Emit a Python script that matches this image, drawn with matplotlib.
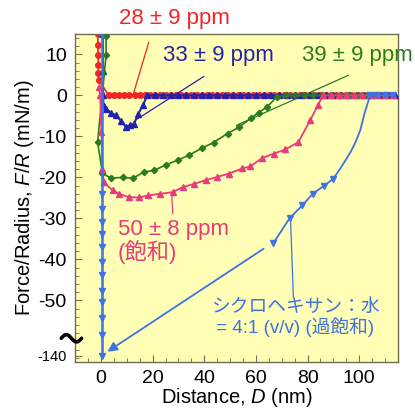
import numpy as np
import matplotlib
matplotlib.use("Agg")
import matplotlib.pyplot as plt
from matplotlib.ticker import MultipleLocator, FixedLocator
from matplotlib.patches import Rectangle

plt.rcParams['font.family'] = ['Liberation Sans', 'Noto Sans CJK JP', 'DejaVu Sans']
plt.rcParams['mathtext.fontset'] = 'custom'
plt.rcParams['mathtext.rm'] = 'Liberation Sans'
plt.rcParams['mathtext.it'] = 'Liberation Sans:italic'
plt.rcParams['axes.unicode_minus'] = False

# --- data ---
# 28 +/- 9 ppm (red circles)
red_x = [-1.2, -1.2, -1.1, -1.0, -1.0, -0.8,
         3, 5, 7, 9, 11, 13, 15, 17, 19, 21, 23, 25, 27, 29, 31, 33, 35, 37, 39,
         41, 43, 45, 47, 49, 51, 53, 55, 57, 59, 61, 63, 65, 67, 69, 71, 73, 75,
         77, 79, 81, 83, 85, 87, 89, 91, 93, 95, 97, 99, 101, 103, 105, 107, 109,
         111, 113]
red_y = [15, 12.2, 9.8, 7.3, 5.4, 3.7] + [0] * 56

# 33 +/- 9 ppm (dark blue triangles)
dblue_x = [0.8, 0.8, 0.8, 1.0, 2.0, 3.8, 5.8, 7.8, 9.6, 11.2, 12.8, 14.5, 16.2, 18,
           21, 24, 27, 30, 33, 36, 39, 42, 45, 48, 51, 54, 57, 60, 63, 66, 69, 72,
           75, 78, 81, 84, 87, 90, 93, 96, 99, 102, 105, 108, 111, 114]
dblue_y = [15, 6, 0, -2.5, -3.3, -4.2, -4.9, -6.2, -7.7, -7.3, -6.9, -4.5, -2.4, 0] + [0] * 32

# 39 +/- 9 ppm (green diamonds)
green_x = [2.0, 2.0, -1.3, 0.6, 3.9, 8.5, 12.4, 16.6, 20.5, 25, 29.7, 34, 39, 43.6,
           49, 53.3, 58, 61, 64.4, 68,
           71.5, 75, 78.5, 82, 85.5, 89, 92.5, 96, 99.5, 103, 106.5, 110]
green_y = [14.6, 9.8, -11.4, -19, -20.2, -20, -20.2, -18.7, -18.3, -17, -15.8, -14.6,
           -12.9, -11.5, -9.3, -7.8, -5.6, -4.2, -2.8, -0.4] + [0] * 12

# 50 +/- 8 ppm, saturated (pink triangles)
pink_x = [-0.8, -0.3, 0.2, 0.6, 1.1, 4.6, 7, 10.7, 14.6, 18.4, 23, 27.8, 31.6, 36,
          40.5, 45, 49.4, 54.8, 57.9, 62.4, 66.9, 71.4, 76.4, 81, 84, 86,
          89, 92, 95, 98, 101, 104, 107, 110, 113]
pink_y = [2, 0, -9, -18, -21.2, -23.2, -24, -24.8, -24.9, -24.4, -24, -23.6, -22.4,
          -21.6, -20.7, -19.9, -19.1, -17.8, -17.3, -15.3, -14.2, -13.2, -11.4,
          -6.1, -2.4, 0] + [0] * 9

# cyclohexane:water = 4:1, supersaturated (light blue down-triangles)
lblue_curve_x = [113, 110, 107, 104.2, 102, 100.4, 98.5, 96.5, 94.5, 92.7, 90, 86.5,
                 82, 78, 73, 66.8]
lblue_curve_y = [0, 0, 0, 0, -4.5, -8.5, -11.5, -14, -16, -17.8, -20.3, -22, -24,
                 -26.8, -30, -36]
lblue_mark_x = [113, 110, 107, 104.2, 90, 86.5, 82, 78, 73, 66.8]
lblue_mark_y = [0, 0, 0, 0, -20.3, -22, -24, -26.8, -30, -36]
lblue_vert_y = [15, -24, -27.8, -31, -33.7, -37, -40.7, -43.9, -47.6, -50.5,
                -54.4, -58.5, -140]
lblue_vert_x = [0.3] * len(lblue_vert_y)

y_ticks = [10, 0, -10, -20, -30, -40, -50]
x_ticks = [0, 20, 40, 60, 80, 100]

BREAK_AT = -63.5  # where -140 sits on the broken axis


def squash(vals):
    return [v if v > -60 else BREAK_AT for v in vals]


RED = '#F02525'
DBLUE = '#2222B0'
GREEN = '#2B7A22'
PINK = '#E83A7C'
LBLUE = '#3F72E4'

fig = plt.figure(figsize=(4.15, 4.08), dpi=100)
ax = fig.add_axes([0.181, 0.113, 0.778, 0.804])
ax.set_facecolor('#FFFFB6')

ax.plot(red_x, red_y, color=RED, lw=1.2, marker='o', ms=4, mec=RED, zorder=2)
ax.plot(dblue_x, dblue_y, color=DBLUE, lw=1.5, marker='^', ms=4, zorder=3)
ax.plot(green_x, green_y, color=GREEN, lw=1.2, marker='D', ms=3.2, zorder=4)
ax.plot(pink_x, pink_y, color=PINK, lw=1.3, marker='^', ms=4, zorder=5)
ax.plot(lblue_curve_x, lblue_curve_y, color=LBLUE, lw=1.3, zorder=6)
ax.plot(lblue_mark_x, lblue_mark_y, ls='none', color=LBLUE, marker='v', ms=4.5, zorder=6)
ax.plot(lblue_vert_x, squash(lblue_vert_y), color=LBLUE, lw=1.8, marker='v', ms=4.5, zorder=6)

# jump-in arrow
ax.annotate('', xy=(2.5, -62.5), xytext=(63, -37.4),
            arrowprops=dict(arrowstyle='-|>', color=LBLUE, lw=1.3, mutation_scale=14,
                            shrinkA=0, shrinkB=0), zorder=7)

# labels with leader lines
ax.plot([18.5, 12.7], [12.9, 0.7], color=RED, lw=0.9)
ax.text(28.6, 18.8, '28 ± 9 ppm', color=RED, fontsize=16, ha='center', va='center',
        clip_on=False)
ax.plot([39.8, 14.2], [4.6, -5.7], color=DBLUE, lw=0.9)
ax.text(45.6, 9.8, '33 ± 9 ppm', color=DBLUE, fontsize=16, ha='center', va='center')
ax.plot([95.8, 52.5], [4.9, -7.3], color=GREEN, lw=0.9)
ax.text(99.2, 9.8, '39 ± 9 ppm', color=GREEN, fontsize=16, ha='center', va='center',
        clip_on=False)
ax.plot([27.8, 27.4], [-28.8, -23.7], color=PINK, lw=0.9)
ax.text(6.6, -35.6, '50 ± 8 ppm\n(飽和)', color=PINK, fontsize=16, ha='left', va='center',
        linespacing=1.0)
ax.plot([74.5, 73.4], [-49.2, -30], color=LBLUE, lw=0.9)
ax.text(42.5, -54.3, 'シクロヘキサン：水\n = 4:1 (v/v) (過飽和)', color=LBLUE, fontsize=13.5,
        ha='left', va='center', linespacing=1.05)

ax.set_xlim(-10, 115)
ax.set_ylim(-65, 15)
ax.xaxis.set_major_locator(FixedLocator(x_ticks))
ax.xaxis.set_minor_locator(MultipleLocator(5))
ax.yaxis.set_major_locator(FixedLocator(y_ticks + [BREAK_AT]))
ax.set_yticklabels([str(t) for t in y_ticks] + ['-140'])
ax.yaxis.set_minor_locator(MultipleLocator(2))
ax.tick_params(which='both', direction='in', color='#6E6E50', labelsize=14, pad=6)
ax.tick_params(which='major', length=5)
ax.tick_params(which='minor', length=3)
for lab in ax.get_yticklabels():
    if lab.get_text() == '-140':
        lab.set_fontsize(10.5)
for s in ax.spines.values():
    s.set_color('#6E6E50')
    s.set_linewidth(1.0)

ax.set_xlabel('Distance, $D$ (nm)', fontsize=14.5, labelpad=-1)
ax.set_ylabel('Force/Radius, $F/R$ (mN/m)', fontsize=14.5, labelpad=1)

# axis break mark: white gap in the spine with a drawn wave
ax.add_patch(Rectangle((-0.05, 0.04), 0.045, 0.06, transform=ax.transAxes,
                       facecolor='white', edgecolor='none', clip_on=False, zorder=10))
t = np.linspace(0, 2 * np.pi, 40)
ax.plot(-0.043 + 0.063 * t / (2 * np.pi), 0.072 + 0.011 * np.sin(t), color='black',
        lw=2.6, transform=ax.transAxes, clip_on=False, zorder=11, solid_capstyle='round')

fig.savefig('out.png', dpi=100)
